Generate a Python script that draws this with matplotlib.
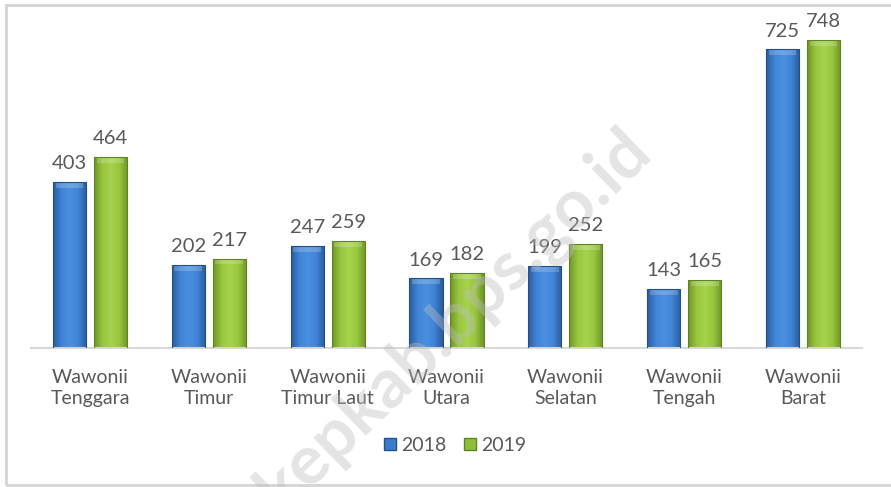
import matplotlib.pyplot as plt
import numpy as np
from matplotlib.colors import LinearSegmentedColormap
from matplotlib.patches import Rectangle, Patch

# data
categories = ["Wawonii\nTenggara", "Wawonii\nTimur", "Wawonii\nTimur Laut", "Wawonii\nUtara",
              "Wawonii\nSelatan", "Wawonii\nTengah", "Wawonii\nBarat"]
v2018 = [403, 202, 247, 169, 199, 143, 725]
v2019 = [464, 217, 259, 182, 252, 165, 748]
series = ["2018", "2019"]

plt.rcParams['font.family'] = ['Lato', 'DejaVu Sans']
txt = '#595959'

fig = plt.figure(figsize=(8.91, 4.87), dpi=100)
ax = fig.add_axes([30.6 / 891, 139 / 487, 831.8 / 891, 329.4 / 487])

# bar look: dark edges, light middle
blue_cm = LinearSegmentedColormap.from_list('b', ['#2b5c9c', '#3f84d6', '#4a8fe0', '#3f84d6', '#2b5c9c'])
green_cm = LinearSegmentedColormap.from_list('g', ['#6f9628', '#98c63e', '#a6d34c', '#98c63e', '#6f9628'])
grad = np.linspace(0, 1, 64).reshape(1, -1)

x = np.arange(len(categories))
w = 0.278
off = 0.1725
for vals, cm, edge, dx in [(v2018, blue_cm, '#24508a', -off), (v2019, green_cm, '#5f8222', off)]:
    bars = ax.bar(x + dx, vals, w, color='none', edgecolor=edge, linewidth=0.8, zorder=3)
    for b, v in zip(bars, vals):
        x0 = b.get_x()
        im = ax.imshow(grad, cmap=cm, aspect='auto', extent=[x0, x0 + w, 0, v], zorder=2)
        im.set_clip_path(b)
        # lighter bevel at the top
        ax.add_patch(Rectangle((x0 + w * 0.08, v - 14), w * 0.84, 12, color='white', alpha=0.2,
                               lw=0, zorder=2.5))
        ax.text(x0 + w / 2, v + 24, str(v), ha='center', va='bottom', fontsize=14.5, color=txt)

ax.set_xlim(-0.5, 6.5)
ax.set_ylim(0, 800)
for s in ['top', 'right', 'left']:
    ax.spines[s].set_visible(False)
ax.spines['bottom'].set_color('#d9d9d9')
ax.spines['bottom'].set_linewidth(1.5)
ax.set_yticks([])
ax.set_xticks(x)
ax.set_xticklabels(categories, fontsize=14, color=txt, linespacing=1.32)
ax.tick_params(axis='x', length=0, pad=15)

handles = [Patch(facecolor='#3a7dcc', edgecolor='#24508a'), Patch(facecolor='#8fbf3a', edgecolor='#5f8222')]
fig.legend(handles, series, loc='center', bbox_to_anchor=(0.511, 0.086), ncol=2, frameon=False,
           fontsize=14, labelcolor=txt, handlelength=0.6, handleheight=0.6, handletextpad=0.3,
           columnspacing=0.9)

# outer frame
fig.patches.append(Rectangle((6 / 891, 2 / 487), 900 / 891, 480 / 487, transform=fig.transFigure,
                             fill=False, edgecolor='#d4d4d4', lw=2))

# watermark
fig.text(455 / 891, 1 - 320 / 487, "kepkab.bps.go.id", rotation=44, ha='center', va='center',
         fontsize=50, fontweight='bold', color='#bdbdbd', alpha=0.4, zorder=10)

fig.savefig('out.png', dpi=100)
